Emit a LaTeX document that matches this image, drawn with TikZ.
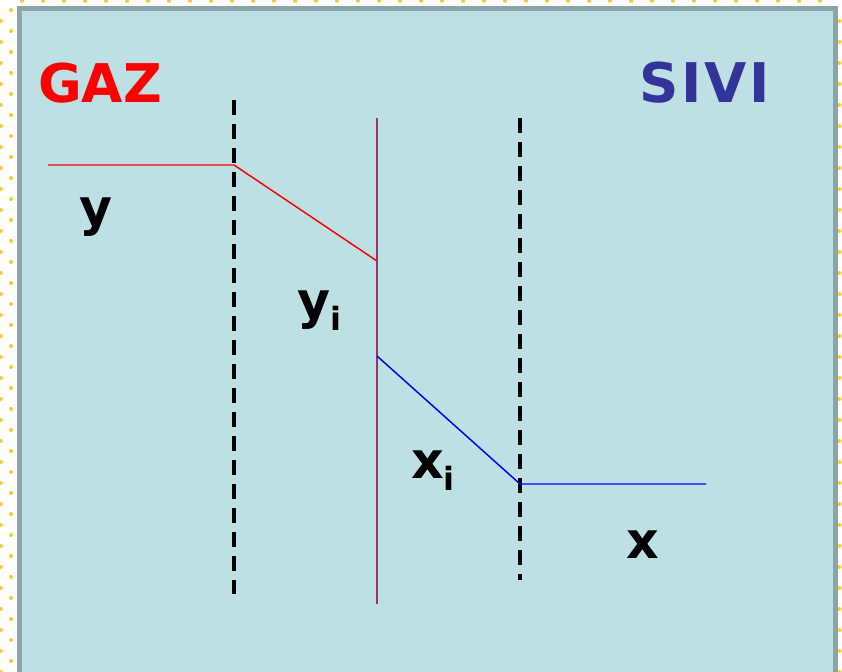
\documentclass[tikz,border=0pt]{standalone}
\usepackage{fontspec}
\setmainfont{DejaVu Sans}
\definecolor{slide}{HTML}{BCE0E3}
\definecolor{rim}{HTML}{89A5A8}
\definecolor{gas}{HTML}{FF0000}
\definecolor{liquid}{HTML}{333399}
\definecolor{iface}{HTML}{993366}
\definecolor{speck}{HTML}{FFC830}
\newcommand{\sub}[1]{\raisebox{-9pt}{\fontsize{24}{28}\selectfont #1}}
\tikzset{
  phase/.style={font=\bfseries\fontsize{40}{48}\selectfont, inner sep=0pt},
  conc/.style={font=\bfseries\fontsize{38}{44}\selectfont, text=black, inner sep=0pt, anchor=base west},
  film/.style={draw=black, line width=3pt, dash pattern=on 11pt off 7pt},
  gasline/.style={draw=gas, line width=1.1pt},
  liqline/.style={draw=blue, line width=1.1pt},
}
\begin{document}
\begin{tikzpicture}[x=0.75pt, y=-0.75pt]
  \useasboundingbox (0,0) rectangle (842,671);

  % slide dots
  \foreach \k in {0,...,32} {
    \fill[speck] (11,{10+21*\k}) circle (2);
    \fill[speck] (0.8,{21+21*\k}) circle (2);
    \fill[speck] (839.5,{21+21*\k}) circle (2);
  }
  \foreach \k in {0,...,38} {
    \fill[speck] ({22+21*\k},0.8) circle (2);
  }

  % panel
  \filldraw[draw=rim, fill=slide, line width=3.75pt] (19.5,8.5) rectangle (835.5,690);

  % phase titles
  \node[phase, text=gas] (gaz) at (100,83) {GAZ};
  \node[phase, text=liquid, font=\bfseries\fontsize{41}{48}\selectfont\addfontfeatures{LetterSpace=5}] (sivi) at (705,83) {SIVI};

  % films and interface
  \coordinate (fg1) at (234,100);
  \coordinate (fg2) at (234,594);
  \coordinate (fl1) at (520,118);
  \coordinate (fl2) at (520,580);
  \coordinate (if1) at (377,118);
  \coordinate (if2) at (377,604);
  \draw[film] (fg1) -- (fg2);
  \draw[film] (fl1) -- (fl2);
  \draw[draw=iface, line width=1.2pt] (if1) -- (if2);

  % concentration profiles
  \coordinate (ybulk) at (48,165);
  \coordinate (yfilm) at (234,165);
  \coordinate (yint) at (377,261);
  \coordinate (xint) at (377,356);
  \coordinate (xfilm) at (520,484);
  \coordinate (xbulk) at (706,484);
  \draw[gasline] (ybulk) -- (yfilm) -- (yint);
  \draw[liqline] (xint) -- (xfilm) -- (xbulk);

  % labels
  \node[conc] (y) at (79,225) {y};
  \node[conc] (yi) at (297,318) {y\sub{i}};
  \node[conc] (xi) at (411,478) {x\sub{i}};
  \node[conc] (x) at (626,558) {x};
\end{tikzpicture}
\end{document}
